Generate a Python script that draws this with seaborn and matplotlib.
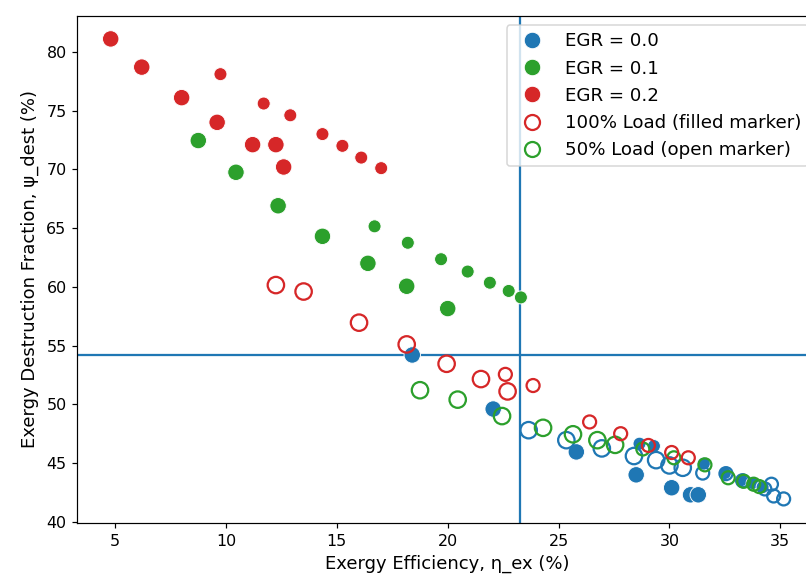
import numpy as np
import pandas as pd
import matplotlib
matplotlib.use("Agg")
import matplotlib.pyplot as plt
from matplotlib.lines import Line2D
import seaborn as sns

# Exergy efficiency (%) and destruction fraction (%) per EGR rate and load.
# "grp" separates the two operating sweeps within each EGR/load case.
egr02_full_eta = [4.8, 6.2, 8.0, 9.6, 11.2, 12.25, 12.6, 9.75, 11.7, 12.9, 14.35, 15.25, 16.1, 17.0]
egr02_full_psi = [81.1, 78.7, 76.1, 74.0, 72.1, 72.1, 70.2, 78.1, 75.6, 74.6, 73.0, 72.0, 71.0, 70.1]

egr01_full_eta = [8.75, 10.45, 12.35, 14.35, 16.4, 18.15, 20.0, 16.7, 18.2, 19.7, 20.9, 21.9, 22.75, 23.3]
egr01_full_psi = [72.45, 69.75, 66.9, 64.3, 62.0, 60.05, 58.15, 65.15, 63.75, 62.35, 61.3, 60.35, 59.65, 59.1]

egr00_full_eta = [18.4, 22.05, 25.8, 28.5, 30.1, 30.95, 31.3, 28.65, 29.3, 31.55, 32.5, 33.25, 33.75, 34.2]
egr00_full_psi = [54.2, 49.6, 45.95, 44.0, 42.9, 42.3, 42.3, 46.65, 46.45, 44.95, 44.15, 43.55, 43.3, 42.95]

egr02_half_eta = [12.25, 13.5, 16.0, 18.15, 19.95, 21.5, 22.7, 22.6, 23.85, 26.4, 27.8, 29.05, 30.1, 30.85]
egr02_half_psi = [60.15, 59.6, 56.95, 55.1, 53.45, 52.15, 51.1, 52.55, 51.6, 48.5, 47.5, 46.5, 45.9, 45.45]

egr01_half_eta = [18.75, 20.45, 22.45, 24.3, 25.65, 26.75, 27.55, 28.8, 30.2, 31.6, 32.65, 33.35, 33.8, 34.05]
egr01_half_psi = [51.2, 50.4, 49.0, 48.0, 47.45, 46.95, 46.55, 46.2, 45.45, 44.85, 43.75, 43.45, 43.2, 43.0]

egr00_half_eta = [23.65, 25.35, 26.95, 28.4, 29.4, 30.0, 30.6, 31.5, 32.55, 33.3, 34.3, 34.6, 34.7, 35.15]
egr00_half_psi = [47.8, 46.95, 46.25, 45.6, 45.25, 44.8, 44.6, 44.15, 44.1, 43.5, 42.8, 43.2, 42.2, 41.95]

sweep = [1] * 7 + [2] * 7

egr_levels = [0.0, 0.1, 0.2]
egr_colors = {0.0: "#1f77b4", 0.1: "#2ca02c", 0.2: "#d62728"}

# Cross-hair reference values
eta_ref = 23.25
psi_ref = 54.2

cases = [
    (0.0, 100, egr00_full_eta, egr00_full_psi),
    (0.1, 100, egr01_full_eta, egr01_full_psi),
    (0.2, 100, egr02_full_eta, egr02_full_psi),
    (0.0, 50, egr00_half_eta, egr00_half_psi),
    (0.1, 50, egr01_half_eta, egr01_half_psi),
    (0.2, 50, egr02_half_eta, egr02_half_psi),
]
frames = []
for egr, load, eta, psi in cases:
    frames.append(pd.DataFrame({"eta": eta, "psi": psi, "egr": egr,
                                "load": load, "grp": sweep}))
df = pd.concat(frames, ignore_index=True)

DPI = 108
fig = plt.figure(figsize=(806 / DPI, 578 / DPI), dpi=DPI)
ax = fig.add_axes([77 / 806, 55 / 578, (818 - 77) / 806, (523 - 16) / 578])

size_map = {1: 120, 2: 75}

full = df[df["load"] == 100]
sns.scatterplot(data=full, x="eta", y="psi", hue="egr", palette=egr_colors,
                size="grp", sizes=size_map, edgecolor="white", linewidth=0.6,
                legend=False, ax=ax, zorder=3)

for egr in egr_levels:
    half = df[(df["load"] == 50) & (df["egr"] == egr)]
    sns.scatterplot(data=half, x="eta", y="psi", size="grp", sizes=size_map,
                    facecolor="none", edgecolor=egr_colors[egr], linewidth=1.5,
                    legend=False, ax=ax, zorder=3)

ax.axvline(eta_ref, color="#1f77b4", lw=1.5, zorder=2)
ax.axhline(psi_ref, color="#1f77b4", lw=1.5, zorder=2)

ax.set_xlim(3.28, 36.7)
ax.set_ylim(39.9, 83.05)
ax.set_xticks([5, 10, 15, 20, 25, 30, 35])
ax.set_yticks([40, 45, 50, 55, 60, 65, 70, 75, 80])
ax.tick_params(labelsize=10.6)
ax.set_xlabel("Exergy Efficiency, η_ex (%)", fontsize=12)
ax.set_ylabel("Exergy Destruction Fraction, ψ_dest (%)", fontsize=12, labelpad=5)

handles = [
    Line2D([], [], ls="none", marker="o", markersize=11, color=egr_colors[0.0],
           markeredgecolor="white", markeredgewidth=0.6, label="EGR = 0.0"),
    Line2D([], [], ls="none", marker="o", markersize=11, color=egr_colors[0.1],
           markeredgecolor="white", markeredgewidth=0.6, label="EGR = 0.1"),
    Line2D([], [], ls="none", marker="o", markersize=11, color=egr_colors[0.2],
           markeredgecolor="white", markeredgewidth=0.6, label="EGR = 0.2"),
    Line2D([], [], ls="none", marker="o", markersize=10, markerfacecolor="none",
           markeredgecolor=egr_colors[0.2], markeredgewidth=1.5,
           label="100% Load (filled marker)"),
    Line2D([], [], ls="none", marker="o", markersize=10, markerfacecolor="none",
           markeredgecolor=egr_colors[0.1], markeredgewidth=1.5,
           label="50% Load (open marker)"),
]
ax.legend(handles=handles, loc="upper right", fontsize=12.2)

fig.savefig("out.png", dpi=DPI)
